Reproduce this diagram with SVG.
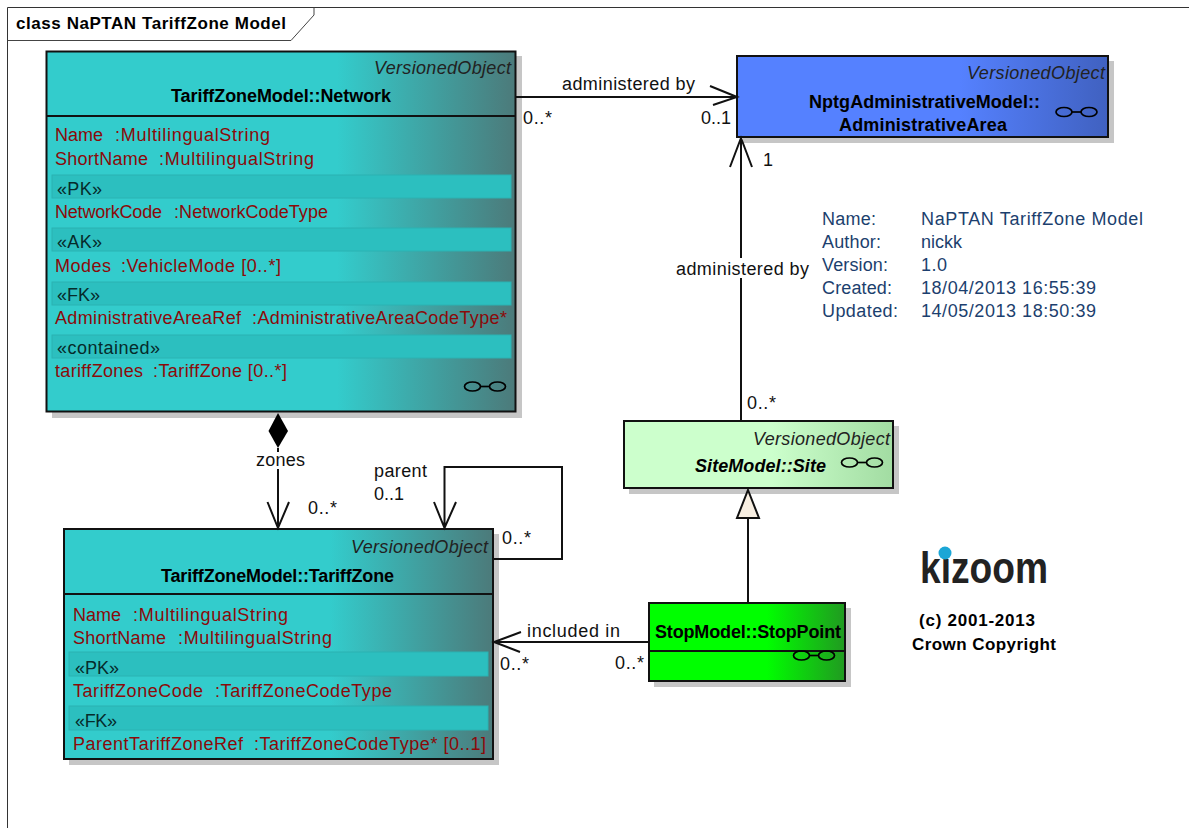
<svg xmlns="http://www.w3.org/2000/svg" width="1189" height="828" viewBox="0 0 1189 828">
<style>
text{font-family:"Liberation Sans",Arial,sans-serif;font-size:18px;fill:#111}
.a{fill:#8b0a0a}
.s{fill:#062b2b}
.v{font-style:italic;text-anchor:end;fill:#222}
.b{font-weight:700;fill:#000}
.i{fill:#1c3f6e}
.box{stroke:#111;stroke-width:2}
.sh{fill:#c6c6c6}
.band{fill:#2cbfbf;stroke:#2bb2b2;stroke-width:1}
.c{fill:none;stroke:#111;stroke-width:2}
.g{fill:none;stroke:#000;stroke-width:1.7}
</style>
<defs>
<linearGradient id="teal"><stop offset="0" stop-color="#33cccc"/><stop offset=".62" stop-color="#33cccc"/><stop offset="1" stop-color="#4c7a7a"/></linearGradient>
<linearGradient id="blue"><stop offset="0" stop-color="#5581ff"/><stop offset=".6" stop-color="#5581ff"/><stop offset="1" stop-color="#4061c0"/></linearGradient>
<linearGradient id="lime"><stop offset="0" stop-color="#ccffcc"/><stop offset=".55" stop-color="#ccffcc"/><stop offset="1" stop-color="#a2dca2"/></linearGradient>
<linearGradient id="green"><stop offset="0" stop-color="#00ff00"/><stop offset=".6" stop-color="#00ff00"/><stop offset="1" stop-color="#219a21"/></linearGradient>
<g id="link"><ellipse class="g" cx="-12.500" cy="0" rx="8" ry="4.500"/><ellipse class="g" cx="12.500" cy="0" rx="8" ry="4.500"/><path class="g" d="M-4.500 0H4.500"/></g>
</defs>
<rect width="1189" height="828" fill="#fff"/>
<g id="frame">
<path d="M7.500 828V7.500H1189" fill="none" stroke="#333" stroke-width="1"/>
<path d="M7.500 40.500H291L314 15V7.500" fill="none" stroke="#444" stroke-width="1"/>
<text x="16" y="29" class="b" style="font-size:17px" textLength="270">class NaPTAN TariffZone Model</text>
</g>
<g id="network">
<rect class="sh" x="52" y="56" width="470" height="362"/>
<rect class="box" x="46.500" y="51.500" width="469" height="360" fill="url(#teal)"/>
<path class="box" d="M46 116H516"/>
<rect class="band" x="52" y="175" width="459" height="23"/>
<rect class="band" x="52" y="228" width="459" height="23"/>
<rect class="band" x="52" y="282" width="459" height="23"/>
<rect class="band" x="52" y="335" width="459" height="23"/>
<text x="511" y="74" class="v" textLength="137">VersionedObject</text>
<text x="171" y="102" class="b" textLength="220">TariffZoneModel::Network</text>
<text x="55" y="141" class="a"><tspan textLength="48">Name</tspan> <tspan x="115" textLength="155">:MultilingualString</tspan></text>
<text x="55" y="165" class="a"><tspan textLength="93">ShortName</tspan> <tspan x="159" textLength="155">:MultilingualString</tspan></text>
<text x="57" y="195" class="s" textLength="45">«PK»</text>
<text x="55" y="218" class="a"><tspan textLength="107">NetworkCode</tspan> <tspan x="174" textLength="154">:NetworkCodeType</tspan></text>
<text x="57" y="248" class="s" textLength="45">«AK»</text>
<text x="55" y="272" class="a"><tspan textLength="56">Modes</tspan> <tspan x="121" textLength="160">:VehicleMode [0..*]</tspan></text>
<text x="57" y="301" class="s" textLength="43">«FK»</text>
<text x="55" y="324" class="a"><tspan textLength="186">AdministrativeAreaRef</tspan> <tspan x="252" textLength="255">:AdministrativeAreaCodeType*</tspan></text>
<text x="57" y="354" class="s" textLength="103">«contained»</text>
<text x="55" y="377" class="a"><tspan textLength="88">tariffZones</tspan> <tspan x="153" textLength="134">:TariffZone [0..*]</tspan></text>
<use href="#link" x="485" y="386.500"/>
</g>
<g id="tariffzone">
<rect class="sh" x="69" y="534" width="430" height="231"/>
<rect class="box" x="64" y="529" width="429" height="230" fill="url(#teal)"/>
<path class="box" d="M64 594H493"/>
<rect class="band" x="69" y="652" width="419" height="24"/>
<rect class="band" x="69" y="706" width="419" height="24"/>
<text x="488" y="553" class="v" textLength="137">VersionedObject</text>
<text x="161" y="582" class="b" textLength="233">TariffZoneModel::TariffZone</text>
<text x="73" y="621" class="a"><tspan textLength="48">Name</tspan> <tspan x="133" textLength="155">:MultilingualString</tspan></text>
<text x="73" y="644" class="a"><tspan textLength="93">ShortName</tspan> <tspan x="178" textLength="154">:MultilingualString</tspan></text>
<text x="75" y="674" class="s" textLength="44">«PK»</text>
<text x="73" y="697" class="a"><tspan textLength="130">TariffZoneCode</tspan> <tspan x="215" textLength="177">:TariffZoneCodeType</tspan></text>
<text x="75" y="727" class="s" textLength="42">«FK»</text>
<text x="73" y="750" class="a"><tspan textLength="170">ParentTariffZoneRef</tspan> <tspan x="254" textLength="232">:TariffZoneCodeType* [0..1]</tspan></text>
</g>
<g id="administrativearea">
<rect class="sh" x="743" y="61" width="371" height="82"/>
<rect class="box" x="737" y="56" width="371" height="81" fill="url(#blue)"/>
<text x="1105" y="79" class="v" textLength="138">VersionedObject</text>
<text x="809" y="108" class="b" textLength="231">NptgAdministrativeModel::</text>
<text x="839" y="131" class="b" textLength="168">AdministrativeArea</text>
<use href="#link" x="1076.500" y="112"/>
</g>
<g id="site">
<rect class="sh" x="629" y="426" width="270" height="68"/>
<rect class="box" x="624" y="421" width="269" height="67" fill="url(#lime)"/>
<text x="890" y="445" class="v" textLength="137">VersionedObject</text>
<text x="695" y="472" class="b" style="font-style:italic" textLength="131">SiteModel::Site</text>
<use href="#link" x="862" y="462.500"/>
</g>
<g id="stoppoint">
<rect class="sh" x="654" y="608" width="197" height="79"/>
<rect class="box" x="649" y="603" width="196" height="78" fill="url(#green)"/>
<path class="box" d="M649 651H845"/>
<text x="655" y="638" class="b" textLength="186">StopModel::StopPoint</text>
<use href="#link" x="814" y="655.500"/>
</g>
<g id="connectors">
<path class="c" d="M516 97H736M710 86L737 97L713 105"/>
<path class="c" d="M741 421V139M730 167L741 138L752 167"/>
<rect x="674" y="258" width="136" height="20" fill="#fff"/>
<path class="c" d="M278 448V528M267.500 502L278 528L289 502"/>
<rect x="254" y="452" width="52" height="17" fill="#fff"/>
<path class="c" d="M494 559H562V467H444.500V528M434 502L444.500 528L456 502"/>
<path class="c" d="M648 642H494M521 632L494 642L520 652"/>
<path class="c" d="M748 603V518"/>
<path d="M748 490L759 518H737Z" fill="#f8efe2" stroke="#111" stroke-width="2"/>
<path d="M278 413L288 431L278 448L268.500 431Z" fill="#000"/>
<text x="562" y="90" textLength="133">administered by</text>
<text x="523" y="124" textLength="29">0..*</text>
<text x="701" y="124" textLength="30">0..1</text>
<text x="763" y="166">1</text>
<text x="676" y="275" textLength="133">administered by</text>
<text x="747" y="409" textLength="29">0..*</text>
<text x="256" y="466" textLength="49">zones</text>
<text x="308" y="514" textLength="29">0..*</text>
<text x="374" y="477" textLength="53">parent</text>
<text x="374" y="500" textLength="30">0..1</text>
<text x="502" y="544" textLength="29">0..*</text>
<text x="500" y="670" textLength="29">0..*</text>
<text x="615" y="669" textLength="29">0..*</text>
<text x="527" y="637" textLength="93">included in</text>
</g>
<g id="info">
<text x="822" y="225" class="i" textLength="54">Name:</text><text x="921" y="225" class="i" textLength="222">NaPTAN TariffZone Model</text>
<text x="822" y="248" class="i" textLength="59">Author:</text><text x="921" y="248" class="i" textLength="41">nickk</text>
<text x="822" y="271" class="i" textLength="66">Version:</text><text x="921" y="271" class="i" textLength="26">1.0</text>
<text x="822" y="294" class="i" textLength="70">Created:</text><text x="921" y="294" class="i" textLength="175">18/04/2013 16:55:39</text>
<text x="822" y="317" class="i" textLength="76">Updated:</text><text x="921" y="317" class="i" textLength="175">14/05/2013 18:50:39</text>
</g>
<g id="logo">
<text x="920" y="583" style="font-size:44px;font-weight:700;fill:#222" textLength="128" lengthAdjust="spacingAndGlyphs">kizoom</text>
<circle cx="945" cy="553" r="6.500" fill="#1ba6d6"/>
<text x="919" y="626" class="b" style="font-size:17px" textLength="116">(c) 2001-2013</text>
<text x="912" y="650" class="b" style="font-size:17px" textLength="144">Crown Copyright</text>
</g>
</svg>
